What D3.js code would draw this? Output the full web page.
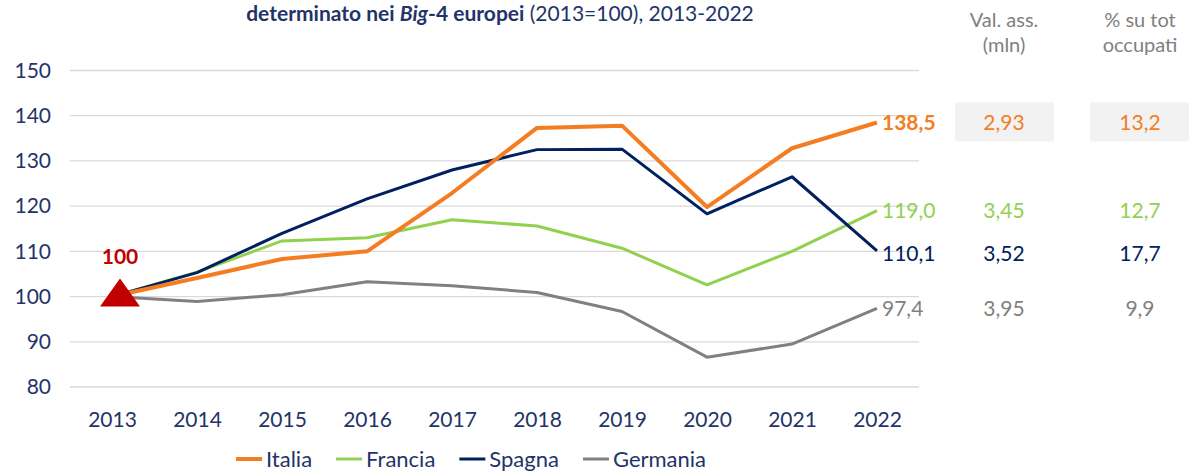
<!DOCTYPE html>
<html>
<head>
<meta charset="utf-8">
<script src="https://cdn.jsdelivr.net/npm/d3@7"></script>
<style>
  body { margin: 0; background: #fff; }
  svg text { font-family: "Source Sans Pro", Lato, "Noto Sans", sans-serif; }
</style>
</head>
<body>
<svg id="chart" width="1189" height="471"></svg>
<script>
// data
const years = [2013, 2014, 2015, 2016, 2017, 2018, 2019, 2020, 2021, 2022]
const italia = [100, 104.1, 108.3, 110.0, 122.9, 137.3, 137.8, 119.8, 132.8, 138.5]
const francia = [100, 105.4, 112.3, 113.0, 117.0, 115.6, 110.7, 102.6, 110.0, 119.0]
const spagna = [100, 105.3, 114.0, 121.6, 128.0, 132.5, 132.6, 118.3, 126.5, 110.1]
const germania = [100, 98.9, 100.4, 103.3, 102.4, 100.9, 96.7, 86.6, 89.5, 97.4]
const seriesNames = ["Italia", "Francia", "Spagna", "Germania"]
const endLabels = ["138,5", "119,0", "110,1", "97,4"]
const valAss = ["2,93", "3,45", "3,52", "3,95"]
const pctOcc = ["13,2", "12,7", "17,7", "9,9"]
const yTicks = [80, 90, 100, 110, 120, 130, 140, 150]

const colors = ["#F47D22", "#92D050", "#002060", "#808080"]
const widths = [4, 3, 3, 3]
const navy = "#1F3468"
const series = [italia, francia, spagna, germania]

const svg = d3.select("#chart")

const x = d3.scalePoint()
  .domain(years)
  .range([112, 877])

const y = d3.scaleLinear()
  .domain([80, 150])
  .range([387, 70.5])

// title (second line visible)
const title = svg.append("text")
  .attr("x", 500)
  .attr("y", 21)
  .attr("text-anchor", "middle")
  .attr("fill", navy)
  .style("font-size", "21px")
title.append("tspan").attr("font-weight", "bold").text("determinato nei ")
title.append("tspan").attr("font-weight", "bold").attr("font-style", "italic").text("Big")
title.append("tspan").attr("font-weight", "bold").text("-4 europei")
title.append("tspan").text(" (2013=100), 2013-2022")

// gridlines
svg.append("g")
  .selectAll("line")
  .data(yTicks)
  .join("line")
  .attr("x1", 70)
  .attr("x2", 919)
  .attr("y1", d => y(d))
  .attr("y2", d => y(d))
  .attr("stroke", "#D9D9D9")
  .attr("stroke-width", 1.3)

// y axis
const yAxis = svg.append("g")
  .attr("transform", "translate(51,0)")
  .call(d3.axisLeft(y).tickValues(yTicks).tickSize(0).tickPadding(0))
yAxis.select(".domain").remove()
yAxis.selectAll("text")
  .attr("fill", navy)
  .style("font-size", "21px")

// x axis
const xAxis = svg.append("g")
  .attr("transform", "translate(0,406)")
  .call(d3.axisBottom(x).tickSize(0).tickPadding(6).tickFormat(d3.format("d")))
xAxis.select(".domain").remove()
xAxis.selectAll("text")
  .attr("fill", navy)
  .style("font-size", "21px")

// lines
const line = d3.line()
  .x((d, i) => x(years[i]))
  .y(d => y(d))

svg.append("g")
  .selectAll("path")
  .data([3, 1, 2, 0])
  .join("path")
  .attr("d", i => line(series[i]))
  .attr("fill", "none")
  .attr("stroke", i => colors[i])
  .attr("stroke-width", i => widths[i])
  .attr("stroke-linejoin", "round")

// triangle marker at base year
const tx = x(2013) + 8
const ty = y(100)
svg.append("path")
  .attr("d", "M" + (tx - 20) + "," + (ty + 10) + "L" + tx + "," + (ty - 18) + "L" + (tx + 20) + "," + (ty + 10) + "Z")
  .attr("fill", "#C00000")
svg.append("text")
  .attr("x", tx)
  .attr("y", ty - 33)
  .attr("text-anchor", "middle")
  .attr("fill", "#C00000")
  .attr("font-weight", "bold")
  .style("font-size", "21px")
  .text("100")

// end labels
svg.append("g")
  .selectAll("text")
  .data(series)
  .join("text")
  .attr("x", x(2022) + 5)
  .attr("y", (d, i) => y(d[d.length - 1]) + (i == 2 ? 3 : 0))
  .attr("dy", "0.35em")
  .attr("fill", (d, i) => colors[i])
  .attr("font-weight", (d, i) => i == 0 ? "bold" : "normal")
  .style("font-size", "21px")
  .text((d, i) => endLabels[i])

// side table
const col1 = 1004, col2 = 1140
const headers = [["Val. ass.", "(mln)"], ["% su tot", "occupati"]]
headers.forEach((h, k) => {
  h.forEach((t, j) => {
    svg.append("text")
      .attr("x", k == 0 ? col1 : col2)
      .attr("y", 27 + j * 25)
      .attr("text-anchor", "middle")
      .attr("fill", "#808080")
      .style("font-size", "20px")
      .text(t)
  })
})

const rowY = series.map((d, i) => y(d[d.length - 1]) + (i == 2 ? 3 : 0))

svg.append("rect")
  .attr("x", 955).attr("y", rowY[0] - 20)
  .attr("width", 99).attr("height", 39)
  .attr("fill", "#F2F2F2")
svg.append("rect")
  .attr("x", 1090).attr("y", rowY[0] - 20)
  .attr("width", 99).attr("height", 39)
  .attr("fill", "#F2F2F2")

;[valAss, pctOcc].forEach((vals, k) => {
  svg.append("g")
    .selectAll("text")
    .data(vals)
    .join("text")
    .attr("x", k == 0 ? col1 : col2)
    .attr("y", (d, i) => rowY[i])
    .attr("dy", "0.35em")
    .attr("text-anchor", "middle")
    .attr("fill", (d, i) => colors[i])
    .style("font-size", "21px")
    .text(d => d)
})

// legend
const legend = svg.append("g").attr("transform", "translate(0,459)")
let lx = 236
seriesNames.forEach((name, i) => {
  legend.append("line")
    .attr("x1", lx).attr("x2", lx + 26)
    .attr("y1", 0).attr("y2", 0)
    .attr("stroke", colors[i])
    .attr("stroke-width", widths[i])
  const t = legend.append("text")
    .attr("x", lx + 30)
    .attr("y", 0)
    .attr("dy", "0.35em")
    .attr("fill", navy)
    .style("font-size", "22px")
    .text(name)
  lx += 30 + t.node().getComputedTextLength() + 24
})
</script>
</body>
</html>
